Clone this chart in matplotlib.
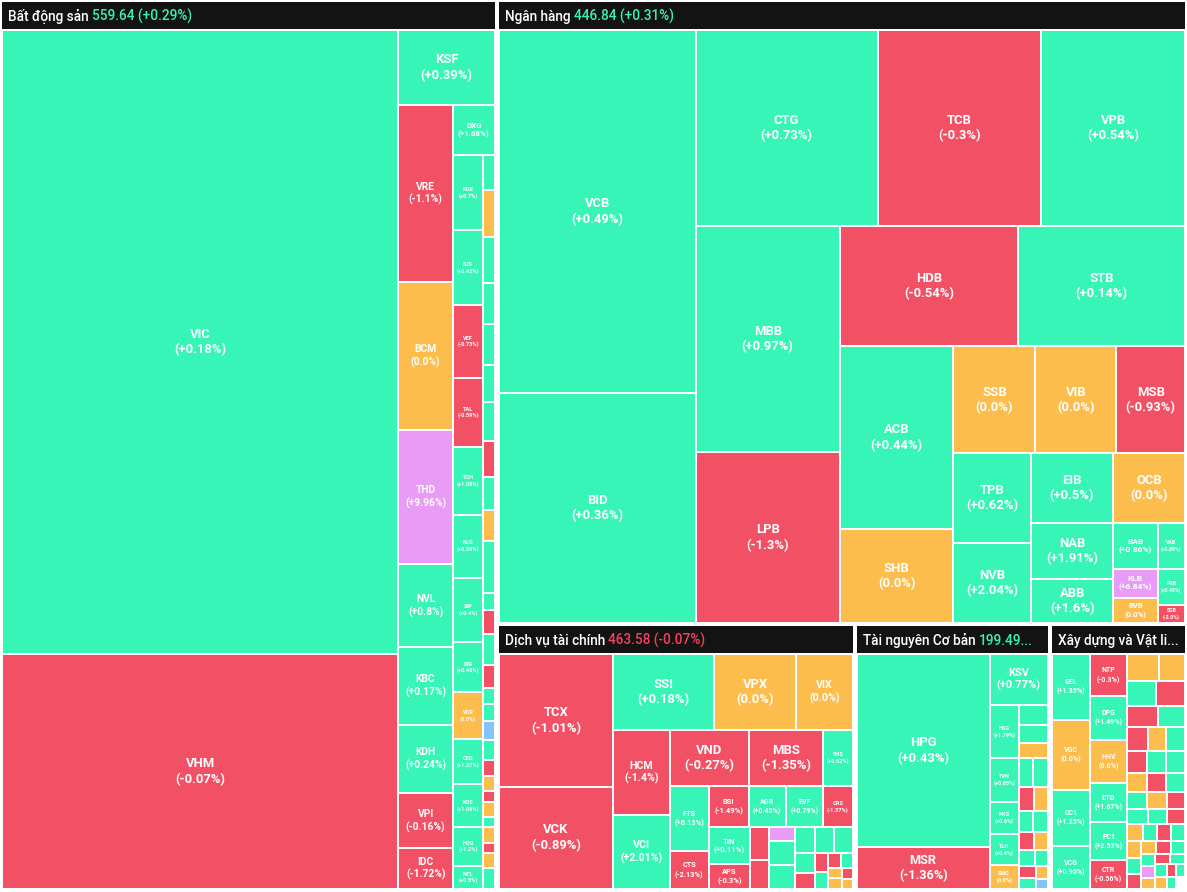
import matplotlib
matplotlib.use("Agg")
import matplotlib.pyplot as plt
from matplotlib.patches import Rectangle

plt.rcParams['font.family'] = ['Roboto', 'DejaVu Sans']

W, H = 1187, 892
COL = {'g': '#36f5b6', 'r': '#f25064', 'y': '#fcbd4c', 'p': '#e99cf5', 'b': '#86c3fa'}

# ---------------- data ----------------
sector_names = ["Bất động sản", "Ngân hàng", "Dịch vụ tài chính", "Tài nguyên Cơ bản", "Xây dựng và Vật li..."]
sector_index = ["559.64 (+0.29%)", "446.84 (+0.31%)", "463.58 (-0.07%)", "199.49...", ""]
sector_up = [True, True, False, True, True]
sector_values = [442, 430.6, 95.2, 51.9, 36.4]

bds_names = ["VIC", "VHM", "KSF", "VRE", "BCM", "THD", "NVL", "KBC", "KDH", "VPI", "IDC", "DXG",
             "PDR", "SJS", "VEF", "TAL", "TCH", "NLG", "SIP", "DIG", "VCR", "CEO", "KOS", "HDG", "NTL"] + [""] * 28
bds_pct = ["+0.18%", "-0.07%", "+0.39%", "-1.1%", "0.0%", "+9.96%", "+0.8%", "+0.17%", "+0.24%", "-0.16%", "-1.72%", "+1.68%",
           "+0.7%", "+0.42%", "-0.73%", "-0.59%", "+1.08%", "+0.39%", "+0.4%", "+0.45%", "0.0%", "+1.37%", "+1.09%", "+1.2%", "+0.5%"] + [""] * 28
bds_state = list("rgrgyrpggggrggggrrggggyggg")[:0] + list("grgryrpggggrg")[:0]
bds_state = ['g', 'r', 'g', 'r', 'y', 'p', 'g', 'g', 'g', 'r', 'r', 'g',
             'g', 'g', 'r', 'r', 'g', 'g', 'g', 'g', 'y', 'g', 'g', 'g', 'g'] + \
            list("gyggggg" "rgyg" "grgr" "ggbg" "ryry" "gyry" "g")
bds_values = [246, 92.6, 7.2, 9.6, 8.0, 7.3, 4.5, 4.2, 3.7, 3.0, 2.2, 2.1,
              2.25, 2.25, 2.19, 2.07, 2.04, 1.89, 1.95, 1.5, 1.41, 1.35, 1.29, 1.17, 0.69] + \
             [v * 0.012 for v in [34, 45, 45, 40, 40, 36, 38, 35, 32, 30, 50, 17, 23, 30,
                                  23, 15, 17, 18, 20, 15, 15, 10, 15, 10, 15, 10, 15, 20]]
bds_strips = [(2, 'col'), (1, 'row'), (8, 'col'), (1, 'row'), (13, 'col'), (28, 'col')]

bank_names = ["VCB", "BID", "CTG", "TCB", "VPB", "MBB", "LPB", "HDB", "STB", "ACB", "SHB", "SSB", "VIB", "MSB",
              "TPB", "NVB", "EIB", "OCB", "NAB", "ABB", "BAB", "KLB", "BVB", "VAB", "PGB", "SGB"]
bank_pct = ["+0.49%", "+0.36%", "+0.73%", "-0.3%", "+0.54%", "+0.97%", "-1.3%", "-0.54%", "+0.14%", "+0.44%", "0.0%",
            "0.0%", "0.0%", "-0.93%", "+0.62%", "+2.04%", "+0.5%", "0.0%", "+1.91%", "+1.6%", "+0.86%", "+6.84%",
            "0.0%", "+0.89%", "+0.43%", "-2.0%"]
bank_state = ['g', 'g', 'g', 'r', 'g', 'g', 'r', 'r', 'g', 'g', 'y', 'y', 'y', 'r', 'g', 'g', 'g', 'y', 'g', 'g',
              'g', 'p', 'y', 'g', 'g', 'r']
bank_values = [71, 45, 35.5, 31.8, 28, 32.5, 24.5, 21.4, 20, 20.6, 10.6, 8.7, 8.6, 7.3, 6.9, 6.2, 5.7, 5.0,
               4.6, 3.6, 2.0, 1.3, 1.1, 1.25, 0.97, 0.5]
bank_strips = [(2, 'col'), (3, 'row'), (2, 'col'), (2, 'row'), (2, 'col'), (3, 'row'), (2, 'col'), (2, 'row'),
               (2, 'col'), (3, 'col'), (3, 'col')]

dv_names = ["TCX", "VCK", "SSI", "VPX", "VIX", "HCM", "VCI", "VND", "MBS", "SHS", "FTS", "CTS", "BSI", "AGR",
            "EVF", "ORS", "TIN", "APS"] + [""] * 18
dv_pct = ["-1.01%", "-0.89%", "+0.18%", "0.0%", "0.0%", "-1.4%", "+2.01%", "-0.27%", "-1.35%", "+0.52%", "+0.13%",
          "-2.13%", "-1.49%", "+0.45%", "+0.79%", "-1.37%", "+0.11%", "-0.3%"] + [""] * 18
dv_state = ['r', 'r', 'g', 'y', 'y', 'r', 'g', 'r', 'r', 'g', 'g', 'r', 'r', 'g', 'g', 'r', 'g', 'r'] + \
           list("rrpggggggrrgrgyyry")
dv_values = [14.9, 11.5, 7.5, 6.1, 4.2, 4.7, 4.1, 4.4, 4.1, 1.65, 2.5, 1.45, 1.6, 1.5, 1.5, 1.2, 1.5, 1.0] + \
            [.62, .55, .36, .6, .6, .5, .47, .47, .4, .3, .25, .22, .2, .18, .15, .15, .12, .1]
dv_strips = [(2, 'col'), (3, 'row'), (2, 'col'), (3, 'row'), (2, 'col'), (4, 'row'), (2, 'col')]

tn_names = ["HPG", "MSR", "KSV", "HSG", "TVN", "NKG", "TLH", "SMC"] + [""] * 17
tn_pct = ["+0.43%", "-1.36%", "+0.77%", "+1.79%", "+0.85%", "+0.6%", "+0.4%", "0.0%"] + [""] * 17
tn_state = ['g', 'r', 'g', 'g', 'g', 'g', 'g', 'y'] + list("ggyggrygg" "ryggrgyb")
tn_values = [24.8, 5.4, 2.9, 1.5, 1.23, 0.92, 0.87, 0.67] + \
            [.56, .5, .45, .4, .4, .35, .33, .3, .3, .28, .25, .25, .2, .2, .18, .15, .12]
tn_strips = [(2, 'col'), (1, 'row'), (5, 'col')]

xd_names = ["GEL", "VGC", "CC1", "VCG", "NTP", "DPG", "HHV", "CTD", "PC1", "CTR"] + [""] * 42
xd_pct = ["+1.35%", "0.0%", "+1.25%", "+0.95%", "-0.3%", "+1.49%", "0.0%", "+1.67%", "+2.53%", "-0.56%"] + [""] * 42
xd_state = ['g', 'y', 'g', 'g', 'r', 'g', 'y', 'g', 'g', 'r'] + \
           list("yygrrgryg" "rggyrggyrg" "grygrgygry" "rggpyrggyrgg")[:42]
xd_values = [2.45, 2.6, 2.1, 1.6, 1.56, 1.6, 1.6, 1.44, 1.4, 1.06] + \
            [.84, .68, .72, .72, .62, .55, .5, .45, .45, .42, .4, .4, .38, .36, .35, .33, .32, .3, .3, .28,
             .27, .26, .25, .24, .23, .22, .21, .2, .2, .19, .18, .18, .17, .16, .15, .15, .14, .13, .12, .12, .11, .1]
xd_strips = [(4, 'col'), (6, 'col')]

sectors = [
    (bds_names, bds_pct, bds_state, bds_values, bds_strips),
    (bank_names, bank_pct, bank_state, bank_values, bank_strips),
    (dv_names, dv_pct, dv_state, dv_values, dv_strips),
    (tn_names, tn_pct, tn_state, tn_values, tn_strips),
    (xd_names, xd_pct, xd_state, xd_values, xd_strips),
]
top_strips = [(1, 'col'), (1, 'row'), (3, 'row')]


# ---------------- layout ----------------
def worst(row, side):
    s = sum(row)
    t = s / side
    return max(max(t / (v / t), (v / t) / t) for v in row)


def place(vals, orient, x, y, w, h, out):
    s = sum(vals)
    if orient == 'col':
        sw = s / h
        cy = y
        for v in vals:
            out.append((x, cy, sw, v / sw))
            cy += v / sw
        return x + sw, y, w - sw, h
    sh = s / w
    cx = x
    for v in vals:
        out.append((cx, y, v / sh, sh))
        cx += v / sh
    return x, y + sh, w, h - sh


def layout(values, x, y, w, h, strips):
    tot = sum(values)
    vals = [v * w * h / tot for v in values]
    out = []
    i = 0
    for n, orient in strips:
        if i >= len(vals):
            break
        x, y, w, h = place(vals[i:i + n], orient, x, y, w, h, out)
        i += n
    rest = vals[i:]
    while rest:
        orient = 'col' if w >= h else 'row'
        side = h if orient == 'col' else w
        row = [rest[0]]
        j = 1
        while j < len(rest) and worst(row + [rest[j]], side) <= worst(row, side):
            row.append(rest[j])
            j += 1
        x, y, w, h = place(row, orient, x, y, w, h, out)
        rest = rest[j:]
    return out


fig = plt.figure(figsize=(W / 100, H / 100), dpi=100)
ax = fig.add_axes([0, 0, 1, 1])
ax.set_xlim(0, W)
ax.set_ylim(H, 0)
ax.axis('off')

panels = layout(sector_values, 0, 0, W, 890, top_strips)
HDR = 27
for si, (px, py, pw, ph) in enumerate(panels):
    x0, y0, x1, y1 = px + 2, py + 2, px + pw - 2, py + ph - 1
    ax.add_patch(Rectangle((x0, y0), x1 - x0, HDR, facecolor='#131313', edgecolor='none'))
    t = ax.text(x0 + 6, y0 + HDR / 2 + 1, sector_names[si] + " ", color='white', fontsize=9.8,
                fontweight='medium', va='center', ha='left', clip_on=True)
    if sector_index[si]:
        ax.annotate(sector_index[si], xy=(1, 0), xycoords=t, va='bottom', ha='left', fontsize=9.8,
                    fontweight='medium', color='#35f5b5' if sector_up[si] else '#f5415a')
    names, pcts, states, vals, strips = sectors[si]
    cells = layout(vals, x0, y0 + HDR + 1, x1 - x0, y1 - (y0 + HDR + 1), strips)
    for (cx, cy, cw, ch), nm, pc, st in zip(cells, names, pcts, states):
        ax.add_patch(Rectangle((cx, cy), cw, ch, facecolor=COL[st], edgecolor='white', linewidth=1.4))
        if nm:
            px_size = min(13.0, cw / 5.3, ch / 3.3)
            if px_size >= 3.5:
                ax.text(cx + cw / 2, cy + ch / 2, f"{nm}\n({pc})", color='white', fontweight='bold',
                        fontsize=px_size * 0.72, ha='center', va='center', linespacing=1.25)

fig.savefig("out.png", dpi=100, facecolor='white')
